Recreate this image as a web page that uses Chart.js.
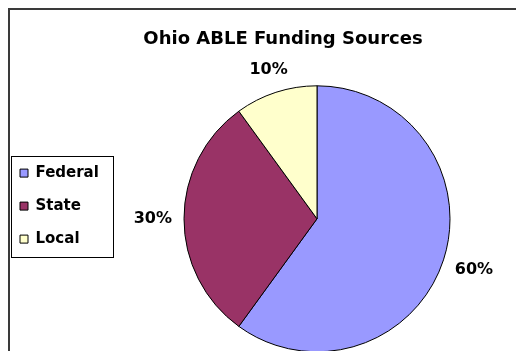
<!DOCTYPE html>
<html lang="en">
<head>
    <meta charset="UTF-8">
    <title>Ohio ABLE Funding Sources</title>
    <script src="https://cdn.jsdelivr.net/npm/chart.js"></script>
    <style>
      html, body { margin: 0; padding: 0; background: #fff; overflow: hidden; }
      .frame { position: absolute; left: 8px; top: 8px; width: 620px; height: 420px; border: 2px solid #3a3a3a; }
      #pie { position: absolute; left: 0; top: 0; }
    </style>
</head>
<body>
    <div class="frame"></div>
    <canvas id="pie" width="564" height="351"></canvas>

    <script type="text/javascript" charset="utf-8">
      const categories = ["Federal", "State", "Local"];
      const shares = [60, 30, 10];
      const sliceColors = ["#9999FF", "#993366", "#FFFFCC"];

      Chart.defaults.color = "#000";
      Chart.defaults.font.family = "'DejaVu Sans', Verdana, sans-serif";

      // percent labels just outside each slice
      const pctLabels = {
        id: "pctLabels",
        afterDatasetsDraw(chart) {
          const ctx = chart.ctx;
          const total = shares.reduce((a, b) => a + b, 0);
          ctx.save();
          ctx.font = "bold 16px 'DejaVu Sans', Verdana, sans-serif";
          ctx.fillStyle = "#000";
          ctx.textAlign = "center";
          ctx.textBaseline = "middle";
          chart.getDatasetMeta(0).data.forEach((arc, i) => {
            const p = arc.getProps(["x", "y", "startAngle", "endAngle", "outerRadius"], true);
            const mid = (p.startAngle + p.endAngle) / 2;
            const txt = Math.round(shares[i] / total * 100) + "%";
            const halfW = ctx.measureText(txt).width / 2;
            const d = p.outerRadius + 12 + halfW * Math.abs(Math.cos(mid)) + 6 * Math.abs(Math.sin(mid));
            ctx.fillText(txt, p.x + Math.cos(mid) * d, p.y + Math.sin(mid) * d);
          });
          ctx.restore();
        }
      };

      // legend keeps a narrow slot in the layout, but draws its full text
      const legendFrame = {
        id: "legendFrame",
        afterLayout(chart) {
          const lg = chart.legend;
          lg.width = 112;
          lg.right = lg.left + 112;
        },
        afterDraw(chart) {
          const lg = chart.legend;
          const boxes = lg.legendHitBoxes;
          if (!boxes || !boxes.length) return;
          const last = boxes[boxes.length - 1];
          const x0 = lg.left + 9, y0 = boxes[0].top - 10;
          const x1 = lg.left + 111, y1 = last.top + last.height + 10;
          const ctx = chart.ctx;
          ctx.save();
          ctx.strokeStyle = "#000";
          ctx.lineWidth = 1;
          ctx.strokeRect(Math.round(x0) + 0.5, Math.round(y0) + 0.5, Math.round(x1 - x0), Math.round(y1 - y0));
          ctx.restore();
        }
      };

      const ctx = document.getElementById("pie").getContext("2d");
      const chart = new Chart(ctx, {
        type: "pie",
        data: {
          labels: categories,
          datasets: [{
            data: shares,
            backgroundColor: sliceColors,
            borderColor: "#000",
            borderWidth: 1,
            hoverOffset: 0,
            radius: 133,
            clip: false
          }]
        },
        options: {
          responsive: false,
          animation: false,
          devicePixelRatio: 1,
          layout: { padding: { left: 2, right: 0, top: 0, bottom: 61 } },
          plugins: {
            title: {
              display: true,
              text: "Ohio ABLE Funding Sources",
              font: { size: 18, weight: "bold", lineHeight: 1.2 },
              padding: { top: 29, bottom: 97 }
            },
            legend: {
              position: "left",
              align: "start",
              fullSize: false,
              maxWidth: 68,
              labels: {
                boxWidth: 8,
                boxHeight: 8,
                padding: 18,
                font: { size: 15, weight: "bold", lineHeight: 1.2 }
              }
            },
            tooltip: { enabled: false }
          }
        },
        plugins: [pctLabels, legendFrame]
      });
    </script>
</body>
</html>
